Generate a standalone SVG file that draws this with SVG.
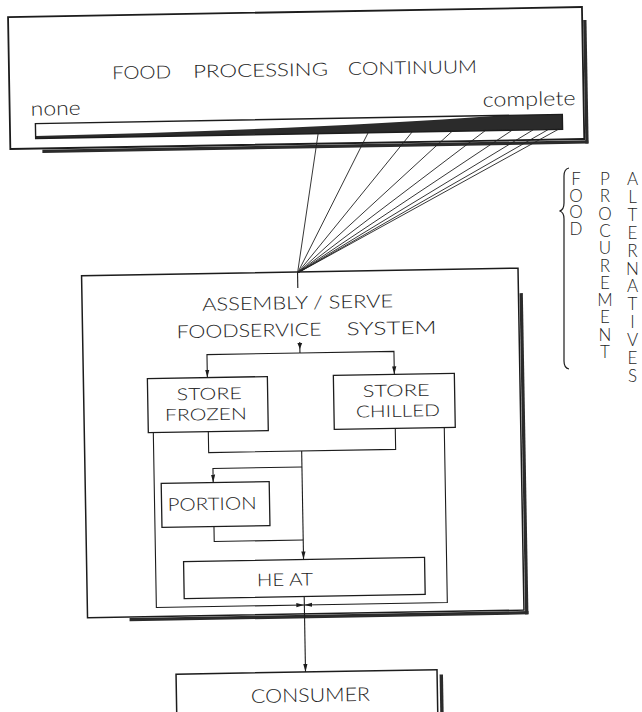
<svg xmlns="http://www.w3.org/2000/svg" width="642" height="712" viewBox="0 0 642 712">
<style>
.box{fill:#fff;stroke:#1c1c1c;stroke-width:1.5}
.sh{fill:#2b2b2b}
.t{font-family:Lato,"Liberation Sans",Arial,sans-serif;font-weight:300;fill:#1e1e1e}
.ln{fill:none;stroke:#1c1c1c;stroke-width:1.1}
.fan{stroke:#222;stroke-width:0.9}
</style>
<defs>
<marker id="ah" viewBox="0 0 8 6" refX="8" refY="3" markerWidth="8" markerHeight="6" markerUnits="userSpaceOnUse" orient="auto"><path d="M0,0.9 L8,3 L0,5.1 Z" fill="#1c1c1c"/></marker>
</defs>
<rect width="642" height="712" fill="#fff"/>
<g transform="rotate(-1 300 356)">
<g id="continuum">
<rect class="sh" x="46" y="145.3" width="546" height="3.3"/>
<rect class="sh" x="589" y="25" width="3.3" height="123.6"/>
<rect class="box" x="14" y="12" width="574" height="132" style="stroke-width:1.8"/>
<text class="t" x="117" y="76" font-size="18" textLength="59" lengthAdjust="spacingAndGlyphs">FOOD</text>
<text class="t" x="198" y="76" font-size="18" textLength="135" lengthAdjust="spacingAndGlyphs">PROCESSING</text>
<text class="t" x="353" y="76" font-size="18" textLength="129" lengthAdjust="spacingAndGlyphs">CONTINUUM</text>
<text class="t" x="35" y="111" font-size="20" textLength="50" lengthAdjust="spacingAndGlyphs">none</text>
<text class="t" x="487" y="110" font-size="20" textLength="93" lengthAdjust="spacingAndGlyphs">complete</text>
<rect x="39.5" y="119" width="527" height="15" fill="#fff"/>
<path d="M39.5,134 L39.5,131.5 Q300,130 505,119 L566.5,119 L566.5,134 Z" fill="#2b2b2b"/>
<rect x="39.5" y="119" width="527" height="15" fill="none" stroke="#1c1c1c" stroke-width="1.4"/>
</g>
<g id="assembly-serve">
<rect class="sh" x="125" y="615" width="399" height="3.3"/>
<rect class="sh" x="520.6" y="297" width="3.3" height="321.3"/>
<rect class="box" x="83" y="272" width="436.5" height="342"/>
<text class="t" x="203" y="309" font-size="18" textLength="191" lengthAdjust="spacingAndGlyphs">ASSEMBLY / SERVE</text>
<text class="t" x="177" y="336" font-size="18" textLength="145" lengthAdjust="spacingAndGlyphs">FOODSERVICE</text>
<text class="t" x="347" y="336" font-size="18" textLength="90" lengthAdjust="spacingAndGlyphs">SYSTEM</text>
</g>
<g id="store-frozen">
<rect class="box" x="147" y="376" width="120" height="54" style="stroke-width:1.3"/>
<text class="t" x="176" y="398" font-size="16.5" textLength="65" lengthAdjust="spacingAndGlyphs">STORE</text>
<text class="t" x="164" y="418.5" font-size="16.5" textLength="82" lengthAdjust="spacingAndGlyphs">FROZEN</text>
</g>
<g id="store-chilled">
<rect class="box" x="333" y="376" width="121" height="54" style="stroke-width:1.3"/>
<text class="t" x="362" y="398" font-size="16.5" textLength="67" lengthAdjust="spacingAndGlyphs">STORE</text>
<text class="t" x="355" y="418.5" font-size="16.5" textLength="84" lengthAdjust="spacingAndGlyphs">CHILLED</text>
</g>
<g id="portion">
<rect class="box" x="159" y="481" width="108" height="44" style="stroke-width:1.3"/>
<text class="t" x="165" y="508.5" font-size="17.5" textLength="89" lengthAdjust="spacingAndGlyphs">PORTION</text>
</g>
<g id="heat">
<rect class="box" x="180" y="559.5" width="241" height="37" style="stroke-width:1.3"/>
<text class="t" x="253" y="585.5" font-size="17.5" textLength="56" lengthAdjust="spacingAndGlyphs">HE AT</text>
</g>
<g id="consumer">
<rect class="sh" x="434" y="677" width="3.4" height="60"/>
<rect class="box" x="170.5" y="672" width="261" height="70"/>
<text class="t" x="245" y="702" font-size="19" textLength="119" lengthAdjust="spacingAndGlyphs">CONSUMER</text>
</g>
<g id="connectors">
<g class="fan">
<line x1="322" y1="134" x2="299" y2="273"/>
<line x1="372" y1="134" x2="299" y2="273"/>
<line x1="416" y1="134" x2="299" y2="273"/>
<line x1="456" y1="134" x2="299" y2="273"/>
<line x1="489" y1="134" x2="299" y2="273"/>
<line x1="516" y1="134" x2="299" y2="273"/>
<line x1="537" y1="134" x2="299" y2="273"/>
<line x1="552" y1="134" x2="299" y2="273"/>
<line x1="562" y1="134" x2="299" y2="273"/>
</g>
<path class="ln" d="M299,273 L299,288"/>
<path class="ln" d="M300,342 L300,353"/>
<path d="M297.6,343 L302.4,343 L300,349 Z" fill="#1c1c1c"/>
<path class="ln" d="M300,353 L207,353 L207,376" marker-end="url(#ah)"/>
<path class="ln" d="M300,353 L394,353 L394,376" marker-end="url(#ah)"/>
<path class="ln" d="M207,430 L207,451 L394,451 L394,430"/>
<path class="ln" d="M300,451 L300,559.5" marker-end="url(#ah)"/>
<path class="ln" d="M300,467 L211,467 L211,481" marker-end="url(#ah)"/>
<path class="ln" d="M211,525 L211,540 L300,540"/>
<path class="ln" d="M152,430 L152,605 L300,605" marker-end="url(#ah)"/>
<path class="ln" d="M443,430 L443,605 L300,605" marker-end="url(#ah)"/>
<path class="ln" d="M300,596.5 L300,672" marker-end="url(#ah)"/>
</g>
</g>
<g id="procurement-alternatives">
<path d="M569,168 Q564,169 564,176 L564,203 Q564,210 559.5,211 Q564,212 564,219 L564,361 Q564,368 569,369" fill="none" stroke="#1c1c1c" stroke-width="1.2"/>
<text class="t" font-size="17" text-anchor="middle"><tspan x="576" y="185">F</tspan><tspan x="576" y="201.7">O</tspan><tspan x="576" y="218.3">O</tspan><tspan x="576" y="235">D</tspan></text>
<text class="t" font-size="17" text-anchor="middle"><tspan x="605" y="185">P</tspan><tspan x="605" y="202.3">R</tspan><tspan x="605" y="219.6">O</tspan><tspan x="605" y="236.9">C</tspan><tspan x="605" y="254.2">U</tspan><tspan x="605" y="271.5">R</tspan><tspan x="605" y="288.8">E</tspan><tspan x="605" y="306.1">M</tspan><tspan x="605" y="323.4">E</tspan><tspan x="605" y="340.7">N</tspan><tspan x="605" y="358">T</tspan></text>
<text class="t" font-size="17" text-anchor="middle"><tspan x="632.5" y="185">A</tspan><tspan x="632.5" y="202.9">L</tspan><tspan x="632.5" y="220.8">T</tspan><tspan x="632.5" y="238.7">E</tspan><tspan x="632.5" y="256.6">R</tspan><tspan x="632.5" y="274.5">N</tspan><tspan x="632.5" y="292.4">A</tspan><tspan x="632.5" y="310.3">T</tspan><tspan x="632.5" y="328.2">I</tspan><tspan x="632.5" y="346.1">V</tspan><tspan x="632.5" y="364">E</tspan><tspan x="632.5" y="382">S</tspan></text>
</g>
</svg>
